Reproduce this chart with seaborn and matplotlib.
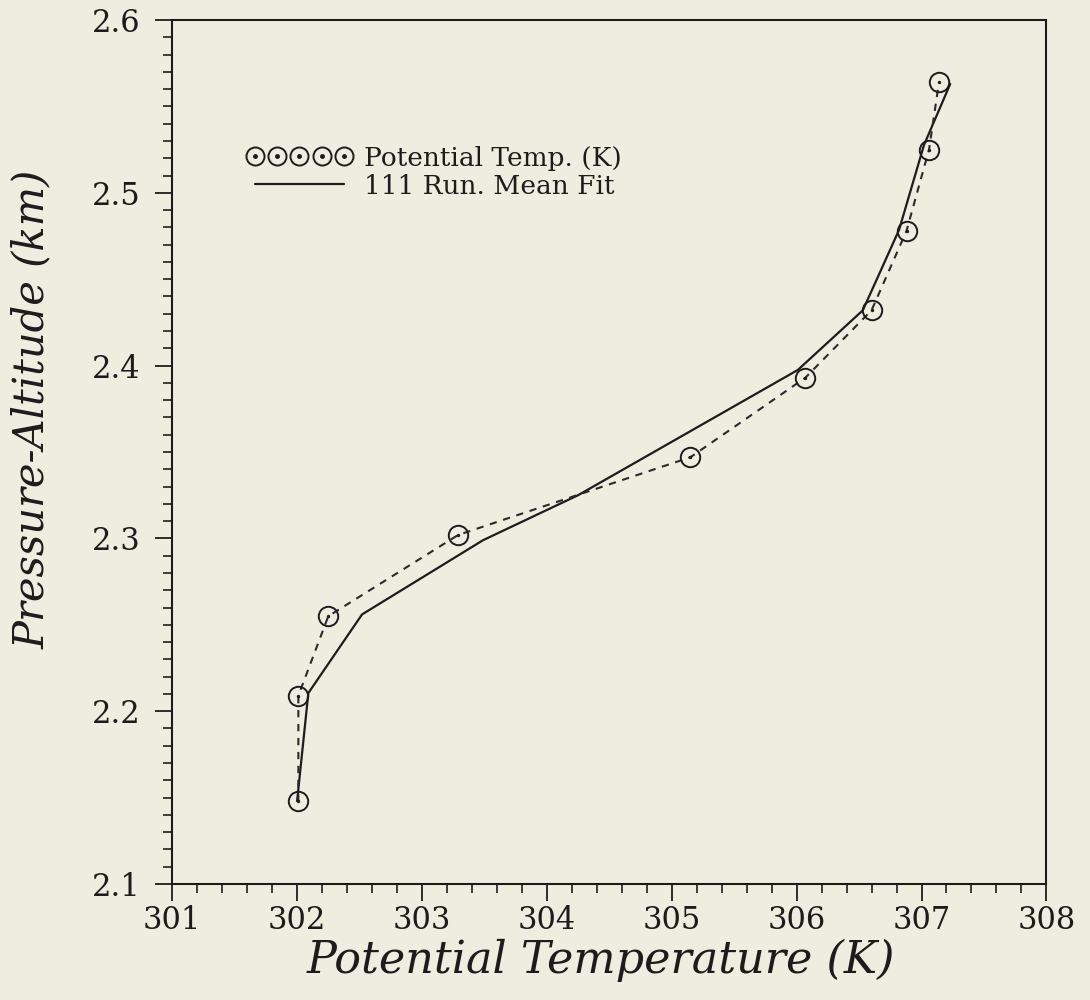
import matplotlib
matplotlib.use("Agg")
import matplotlib.pyplot as plt
from matplotlib.lines import Line2D
from matplotlib.ticker import MultipleLocator
import seaborn as sns
import pandas as pd

# Observed potential temperature profile
theta_obs = [302.01, 302.01, 302.25, 303.29, 305.15, 306.07, 306.60, 306.88, 307.06, 307.14]
alt_obs = [2.148, 2.209, 2.255, 2.302, 2.347, 2.393, 2.432, 2.478, 2.525, 2.564]

# 111-point running mean fit
theta_fit = [302.00, 302.09, 302.52, 303.49, 304.25, 306.01, 306.53, 306.82, 307.02, 307.23]
alt_fit = [2.148, 2.2105, 2.256, 2.299, 2.325, 2.3975, 2.432, 2.4785, 2.5277, 2.563]

x_ticks = [301, 302, 303, 304, 305, 306, 307, 308]
y_ticks = [2.1, 2.2, 2.3, 2.4, 2.5, 2.6]

bg = "#EEEEE0"
ink = "#1c1c1c"
sns.set_theme(style="ticks")
plt.rcParams["font.family"] = ["DejaVu Serif"]

fig = plt.figure(figsize=(10.9, 10.0), dpi=100, facecolor=bg)
ax = fig.add_axes([0.158, 0.116, 0.802, 0.864])
ax.set_facecolor(bg)

df_obs = pd.DataFrame({"theta": theta_obs, "alt": alt_obs})
df_fit = pd.DataFrame({"theta": theta_fit, "alt": alt_fit})

sns.lineplot(data=df_fit, x="theta", y="alt", sort=False, ax=ax,
             color=ink, linewidth=1.6, estimator=None)
sns.lineplot(data=df_obs, x="theta", y="alt", sort=False, ax=ax,
             color="#2a2a2a", linewidth=1.5, estimator=None,
             linestyle=(0, (3.5, 3.2)), marker="o", markersize=14,
             markeredgewidth=1.4, markerfacecolor="none", markeredgecolor=ink)
sns.scatterplot(data=df_obs, x="theta", y="alt", ax=ax, color=ink, s=6,
                linewidth=0, zorder=5)

ax.set_xlim(301, 308)
ax.set_ylim(2.1, 2.6)
ax.set_xticks(x_ticks)
ax.set_xticklabels([str(t) for t in x_ticks])
ax.set_yticks(y_ticks)
ax.set_yticklabels([f"{t:.1f}" for t in y_ticks])
ax.xaxis.set_minor_locator(MultipleLocator(0.2))
ax.yaxis.set_minor_locator(MultipleLocator(0.01))
ax.tick_params(which="major", direction="out", length=12, width=1.3, colors=ink,
               labelsize=22)
ax.tick_params(axis="y", which="major", pad=11)
ax.tick_params(axis="x", which="major", pad=3)
ax.tick_params(which="minor", direction="out", length=6.5, width=1.2, colors=ink)
ax.tick_params(top=False, right=False, which="both")
for s in ax.spines.values():
    s.set_color(ink)
    s.set_linewidth(1.5)

ax.set_xlabel("Potential Temperature (K)", fontsize=32, fontstyle="italic",
              color=ink, labelpad=6)
ax.xaxis.set_label_coords(0.49, -0.064, transform=ax.transAxes)
ax.xaxis.label.set_va("top")
ax.set_ylabel("Pressure-Altitude (km)", fontsize=30, fontstyle="italic",
              color=ink)
ax.yaxis.set_label_coords(-0.137, 0.549, transform=ax.transAxes)

h_circ = Line2D([], [], ls="none", marker="o", markersize=13, markerfacecolor="none",
                markeredgecolor=ink, markeredgewidth=1.4)
h_dot = Line2D([], [], ls="none", marker="o", markersize=2.5, color=ink)
h_fit = Line2D([], [], ls="-", color=ink, linewidth=1.6)
leg = ax.legend([(h_circ, h_dot), h_fit], ["Potential Temp. (K)", "111 Run. Mean Fit"],
                numpoints=5, handlelength=4.0, handletextpad=0.45, frameon=False,
                loc="upper left", bbox_to_anchor=(0.07, 0.87), fontsize=19,
                labelspacing=0.12, borderpad=0.0)
for t in leg.get_texts():
    t.set_color(ink)

fig.savefig("out.png", dpi=100, facecolor=bg)
